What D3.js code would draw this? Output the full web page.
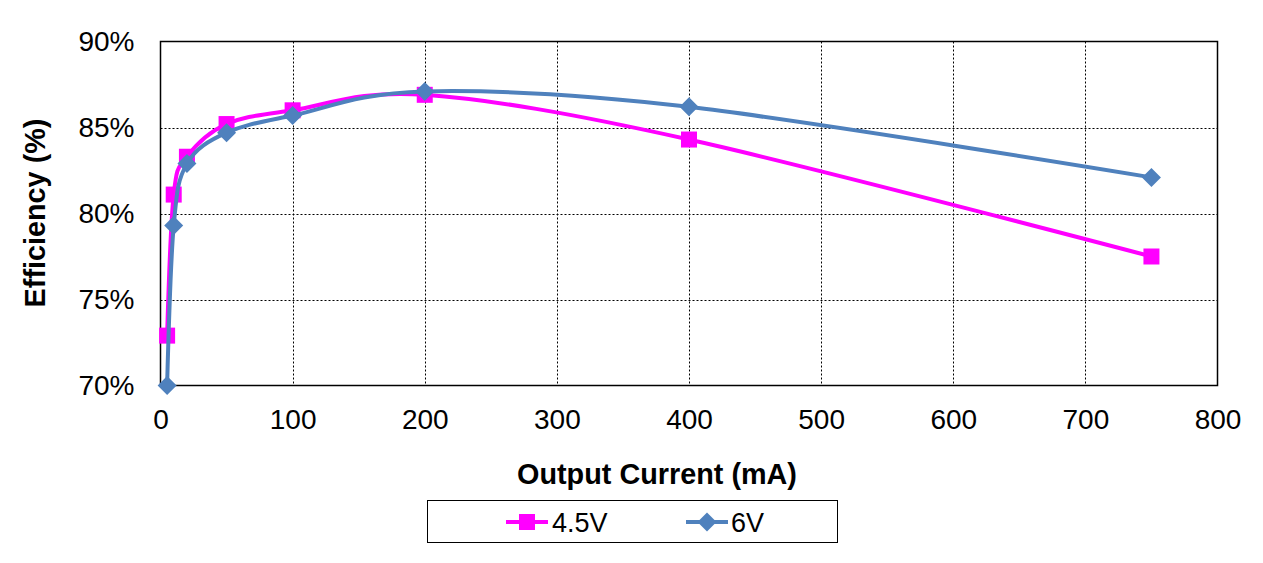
<!DOCTYPE html>
<html><head><meta charset="utf-8">
<script src="https://cdn.jsdelivr.net/npm/d3@7"></script>
<style>body{margin:0;background:#fff}svg{display:block}text{font-family:"Liberation Sans",Arial,sans-serif}</style>
</head><body>
<svg id="c" width="1263" height="563"></svg>
<script>
const currents = [5, 10, 20, 50, 100, 200, 400, 750];
const eff45 = [72.9, 81.1, 83.3, 85.2, 86.0, 86.9, 84.3, 77.5];
const eff6 = [70.0, 79.3, 82.9, 84.7, 85.7, 87.1, 86.2, 82.1];
const xTicks = [0, 100, 200, 300, 400, 500, 600, 700, 800];
const yTicks = [70, 75, 80, 85, 90];
const seriesNames = ["4.5V", "6V"];

const svg = d3.select("#c");
const L = 160.5, R = 1217.5, T = 41.5, B = 385.5;
const x = d3.scaleLinear().domain([0, 800]).range([L, R]);
const y = d3.scaleLinear().domain([70, 90]).range([B, T]);

// gridlines
svg.append("g").selectAll("line").data(yTicks.slice(1, -1)).join("line")
  .attr("x1", L).attr("x2", R).attr("y1", d => Math.round(y(d)) + 0.5).attr("y2", d => Math.round(y(d)) + 0.5)
  .attr("stroke", "#000").attr("stroke-width", 1).attr("stroke-dasharray", "2,2");
svg.append("g").selectAll("line").data(xTicks.slice(1, -1)).join("line")
  .attr("y1", T).attr("y2", B).attr("x1", d => Math.round(x(d)) + 0.5).attr("x2", d => Math.round(x(d)) + 0.5)
  .attr("stroke", "#000").attr("stroke-width", 1).attr("stroke-dasharray", "2,2");

// frame
svg.append("rect").attr("x", L).attr("y", T).attr("width", R - L).attr("height", B - T)
  .attr("fill", "none").attr("stroke", "#000").attr("stroke-width", 1.5);

// axes
const xAxis = svg.append("g").attr("transform", `translate(0,${B})`)
  .call(d3.axisBottom(x).tickValues(xTicks).tickSize(0).tickPadding(24).tickFormat(d3.format("d")));
xAxis.select(".domain").remove();
xAxis.selectAll("text").attr("font-size", 28).attr("fill", "#000");
const yAxis = svg.append("g").attr("transform", `translate(${L},0)`)
  .call(d3.axisLeft(y).tickValues(yTicks).tickSize(0).tickPadding(26).tickFormat(d => d + "%"));
yAxis.select(".domain").remove();
yAxis.selectAll("text").attr("font-size", 28).attr("fill", "#000");

// titles
svg.append("text").attr("x", 657).attr("y", 484).attr("text-anchor", "middle")
  .attr("font-size", 28.8).attr("font-weight", "bold").text("Output Current (mA)");
svg.append("text").attr("transform", "translate(45,213) rotate(-90)").attr("text-anchor", "middle")
  .attr("font-size", 28.8).attr("font-weight", "bold").text("Efficiency (%)");

const colors = ["#FF00FF", "#4F81BD"];
const line = d3.line().x(d => x(d[0])).y(d => y(d[1])).curve(d3.curveCardinal.tension(0));
const data45 = currents.map((c, i) => [c, eff45[i]]);
const data6 = currents.map((c, i) => [c, eff6[i]]);

svg.append("path").datum(data45).attr("d", line).attr("fill", "none").attr("stroke", colors[0]).attr("stroke-width", 4);
svg.append("g").selectAll("rect").data(data45).join("rect")
  .attr("x", d => x(d[0]) - 8).attr("y", d => y(d[1]) - 8).attr("width", 16).attr("height", 16).attr("fill", colors[0]);

svg.append("path").datum(data6).attr("d", line).attr("fill", "none").attr("stroke", colors[1]).attr("stroke-width", 4);
const diamond = "M0,-9.5L9.5,0L0,9.5L-9.5,0Z";
svg.append("g").selectAll("path").data(data6).join("path")
  .attr("transform", d => `translate(${x(d[0])},${y(d[1])})`).attr("d", diamond).attr("fill", colors[1]);

// legend
svg.append("rect").attr("x", 427.5).attr("y", 500.5).attr("width", 410).attr("height", 42)
  .attr("fill", "#fff").attr("stroke", "#000").attr("stroke-width", 1);
const lg = [{x1: 506, x2: 548, tx: 552}, {x1: 686, x2: 728, tx: 731}];
lg.forEach((p, i) => {
  svg.append("line").attr("x1", p.x1).attr("x2", p.x2).attr("y1", 522).attr("y2", 522)
    .attr("stroke", colors[i]).attr("stroke-width", 4);
  const cx = (p.x1 + p.x2) / 2;
  if (i === 0) svg.append("rect").attr("x", cx - 8).attr("y", 514).attr("width", 16).attr("height", 16).attr("fill", colors[0]);
  else svg.append("path").attr("transform", `translate(${cx},522)`).attr("d", diamond).attr("fill", colors[1]);
  svg.append("text").attr("x", p.tx).attr("y", 532).attr("font-size", 27).text(seriesNames[i]);
});
</script>
</body></html>
